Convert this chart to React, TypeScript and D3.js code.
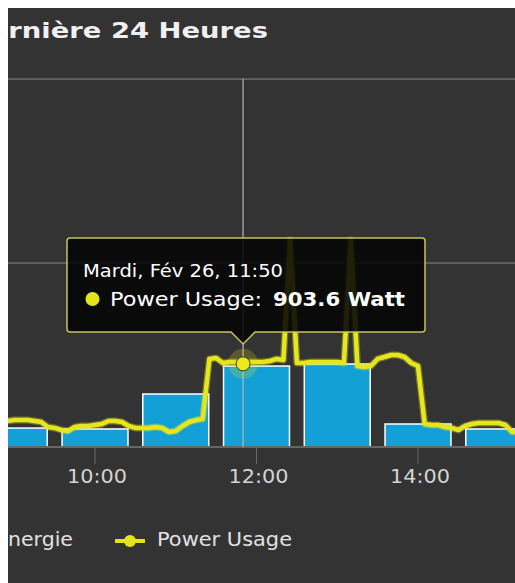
import * as d3 from "d3";

// power samples, 5 min apart (W)
const powerTimes = [
  "08:55", "09:00", "09:05", "09:10", "09:15", "09:20", "09:25", "09:30", "09:35", "09:40", "09:45", "09:50", "09:55",
  "10:00", "10:05", "10:10", "10:15", "10:20", "10:25", "10:30", "10:35", "10:40", "10:45", "10:50", "10:55",
  "11:00", "11:05", "11:10", "11:15", "11:20", "11:25", "11:30", "11:35", "11:40", "11:45", "11:50", "11:55",
  "12:00", "12:05", "12:10", "12:15", "12:20", "12:25", "12:30", "12:35", "12:40", "12:45", "12:50", "12:55",
  "13:00", "13:05", "13:10", "13:15", "13:20", "13:25", "13:30", "13:35", "13:40", "13:45", "13:50", "13:55",
  "14:00", "14:05", "14:10", "14:15", "14:20", "14:25", "14:30", "14:35", "14:40", "14:45", "14:50", "14:55",
  "15:00", "15:05", "15:10", "15:15",
];
const powerValues = [
  283, 293, 293, 293, 283, 272, 217, 207, 185, 174, 217, 228, 228,
  239, 250, 283, 283, 272, 228, 207, 207, 207, 217, 207, 163,
  174, 228, 272, 293, 304, 957, 967, 913, 924, 924, 903.6, 924,
  924, 924, 935, 957, 946, 2250, 913, 913, 924, 924, 924, 924,
  924, 913, 2250, 880, 870, 880, 957, 978, 1000, 1000, 978, 913,
  880, 250, 239, 239, 217, 207, 185, 228, 250, 261, 261, 261,
  261, 239, 163, 163,
];

// hourly energy (Wh)
const energyHours = ["09:00", "10:00", "11:00", "12:00", "13:00", "14:00", "15:00"];
const energyValues = [206, 196, 576, 880, 902, 250, 196];

const tickTimes = ["10:00", "12:00", "14:00"];
const gridValues = [2000, 4000];

const hoverTime = "11:50";
const hoverValue = 903.6;

const toDate = (hm: string, s = 0) => {
  const [h, m] = hm.split(":").map(Number);
  return new Date(2019, 1, 26, h, m, s);
};

const W = 515;
const H = 583;
const font = "'DejaVu Sans', Verdana, sans-serif";

export default function App() {
  const x = d3
    .scaleTime()
    .domain([toDate("08:55", 20), toDate("15:12", 5)])
    .range([8, W]);
  const y = d3.scaleLinear().domain([0, 4000]).range([447, 79]);

  const halfBar = 24.5 * 60 * 1000;
  const fmt = d3.timeFormat("%H:%M");

  const points = powerTimes.map((t, i) => ({ t: toDate(t), v: powerValues[i] }));
  const line = d3
    .line<{ t: Date; v: number }>()
    .x((d) => x(d.t))
    .y((d) => y(d.v));

  const hx = x(toDate(hoverTime));
  const hy = y(hoverValue);

  // tooltip box
  const box = { x: 67, y: 238, w: 358, h: 94 };
  const tipY = box.y + box.h + 12;

  return (
    <svg
      width={W}
      height={H}
      style={{ position: "absolute", left: 0, top: 0, display: "block" }}
    >
      <defs>
        <clipPath id="panel">
          <rect x={8} y={8} width={W - 8} height={H - 8} />
        </clipPath>
      </defs>
      <rect width={W} height={H} fill="#fff" />
      <g clipPath="url(#panel)">
        <rect x={8} y={8} width={W - 8} height={H - 8} fill="#333333" />

        {/* title */}
        <text
          x={-33}
          y={38}
          fill="#f0f0f0"
          fontFamily={font}
          fontWeight="bold"
          fontSize={22}
          textLength={301}
          lengthAdjust="spacingAndGlyphs"
        >
          Dernière 24 Heures
        </text>

        {/* grid */}
        {gridValues.map((g) => (
          <line key={g} x1={8} x2={W} y1={y(g)} y2={y(g)} stroke="#5e5e5e" strokeWidth={2} />
        ))}

        {/* bars */}
        {energyHours.map((h, i) => {
          const c = toDate(h).getTime();
          const x0 = x(new Date(c - halfBar));
          const x1 = x(new Date(c + halfBar));
          return (
            <rect
              key={h}
              x={x0}
              y={y(energyValues[i])}
              width={x1 - x0}
              height={y(0) - y(energyValues[i])}
              fill="#12a0d7"
              stroke="#ffffff"
              strokeWidth={1.5}
            />
          );
        })}

        {/* x axis */}
        <line x1={8} x2={W} y1={y(0)} y2={y(0)} stroke="#666" strokeWidth={2} />
        {tickTimes.map((t) => {
          const tx = x(toDate(t));
          return (
            <g key={t}>
              <line x1={tx} x2={tx} y1={y(0)} y2={y(0) + 17} stroke="#6a6a6a" strokeWidth={1} />
              <text
                x={tx + 2}
                y={483}
                textAnchor="middle"
                fill="#d4d4d4"
                fontFamily={font}
                fontSize={19}
                textLength={60}
                lengthAdjust="spacingAndGlyphs"
              >
                {fmt(toDate(t))}
              </text>
            </g>
          );
        })}

        {/* crosshair */}
        <line x1={hx} x2={hx} y1={y(4000)} y2={y(0)} stroke="#b8b8b8" strokeOpacity={0.8} strokeWidth={1.5} />

        {/* power line */}
        <path
          d={line(points) ?? ""}
          fill="none"
          stroke="#e4e41c"
          strokeOpacity={0.35}
          strokeWidth={7}
          strokeLinejoin="round"
          strokeLinecap="round"
        />
        <path
          d={line(points) ?? ""}
          fill="none"
          stroke="#e6e61c"
          strokeWidth={4.5}
          strokeLinejoin="round"
          strokeLinecap="round"
        />

        {/* hover marker */}
        <circle cx={hx} cy={hy} r={15} fill="#e4e41c" fillOpacity={0.22} />
        <circle cx={hx} cy={hy} r={7} fill="#eaea1a" stroke="#3a3a20" strokeWidth={1} />

        {/* tooltip */}
        <path
          d={`M${box.x + 3},${box.y} H${box.x + box.w - 3} Q${box.x + box.w},${box.y} ${box.x + box.w},${box.y + 3}
             V${box.y + box.h - 3} Q${box.x + box.w},${box.y + box.h} ${box.x + box.w - 3},${box.y + box.h}
             H${hx + 12} L${hx},${tipY} L${hx - 12},${box.y + box.h}
             H${box.x + 3} Q${box.x},${box.y + box.h} ${box.x},${box.y + box.h - 3}
             V${box.y + 3} Q${box.x},${box.y} ${box.x + 3},${box.y} Z`}
          fill="#050505"
          fillOpacity={0.88}
          stroke="#c4c45a"
          strokeWidth={1.5}
        />
        <text
          x={83}
          y={277}
          fill="#ffffff"
          fontFamily={font}
          fontSize={17}
          textLength={200}
          lengthAdjust="spacingAndGlyphs"
        >
          Mardi, Fév 26, 11:50
        </text>
        <circle cx={92.5} cy={299} r={7} fill="#e4e41c" />
        <text
          x={110}
          y={306}
          fill="#ffffff"
          fontFamily={font}
          fontSize={20}
          textLength={152}
          lengthAdjust="spacingAndGlyphs"
        >
          Power Usage:
        </text>
        <text
          x={273}
          y={306}
          fill="#ffffff"
          fontFamily={font}
          fontWeight="bold"
          fontSize={20}
          textLength={132}
          lengthAdjust="spacingAndGlyphs"
        >
          {`${hoverValue} Watt`}
        </text>

        {/* legend */}
        <text
          x={-5}
          y={546}
          fill="#e2e2e2"
          fontFamily={font}
          fontSize={19}
          textLength={78}
          lengthAdjust="spacingAndGlyphs"
        >
          Energie
        </text>
        <line x1={115} x2={145} y1={541} y2={541} stroke="#e4e41c" strokeWidth={4} />
        <circle cx={130} cy={541} r={6} fill="#e4e41c" />
        <text
          x={157}
          y={546}
          fill="#e2e2e2"
          fontFamily={font}
          fontSize={19}
          textLength={135}
          lengthAdjust="spacingAndGlyphs"
        >
          Power Usage
        </text>
      </g>
    </svg>
  );
}
